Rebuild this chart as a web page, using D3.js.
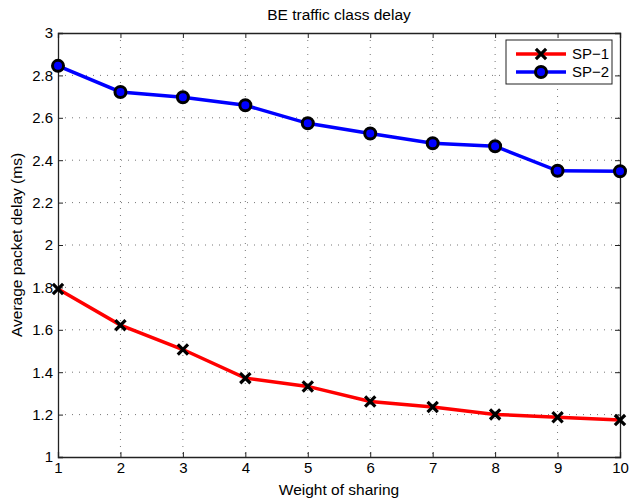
<!DOCTYPE html>
<html>
<head>
<meta charset="utf-8">
<script src="https://cdn.jsdelivr.net/npm/d3@7"></script>
<style>
  body { margin: 0; background: #fff; }
  svg text { font-family: "Liberation Sans", Arial, sans-serif; fill: #000; }
</style>
</head>
<body>
<div id="chart"></div>
<script>
// data
const weights = [1, 2, 3, 4, 5, 6, 7, 8, 9, 10];
const sp1 = [1.792, 1.622, 1.507, 1.372, 1.333, 1.262, 1.236, 1.201, 1.187, 1.174];
const sp2 = [2.845, 2.722, 2.697, 2.659, 2.574, 2.526, 2.480, 2.466, 2.350, 2.348];
const yTicks = [1, 1.2, 1.4, 1.6, 1.8, 2, 2.2, 2.4, 2.6, 2.8, 3];

const width = 630, height = 502;
const margin = { top: 33, right: 10, bottom: 45, left: 58 };
const iw = width - margin.left - margin.right;
const ih = height - margin.top - margin.bottom;
const fs = 15;

const svg = d3.select('#chart').append('svg')
  .attr('width', width)
  .attr('height', height);

const g = svg.append('g')
  .attr('transform', `translate(${margin.left},${margin.top})`);

const x = d3.scaleLinear().domain([1, 10]).range([0, iw]);
const y = d3.scaleLinear().domain([1, 3]).range([ih, 0]);

// dotted grid
g.append('g').selectAll('line')
  .data(weights.slice(1, -1))
  .enter().append('line')
  .attr('x1', d => x(d)).attr('x2', d => x(d))
  .attr('y1', 0).attr('y2', ih)
  .attr('stroke', '#777').attr('stroke-width', 1)
  .attr('stroke-dasharray', '1,6');

g.append('g').selectAll('line')
  .data(yTicks.slice(1, -1))
  .enter().append('line')
  .attr('x1', 0).attr('x2', iw)
  .attr('y1', d => y(d)).attr('y2', d => y(d))
  .attr('stroke', '#777').attr('stroke-width', 1)
  .attr('stroke-dasharray', '1,6');

// axes, ticks pointing inward
const fmt = d => d3.format('~g')(d);
g.append('g')
  .attr('transform', `translate(0,${ih})`)
  .call(d3.axisBottom(x).tickValues(weights).tickSize(-5).tickPadding(5).tickFormat(fmt))
  .call(a => a.selectAll('text').attr('font-size', fs));
g.append('g')
  .call(d3.axisTop(x).tickValues(weights).tickSize(-5).tickFormat(''));
g.append('g')
  .call(d3.axisLeft(y).tickValues(yTicks).tickSize(-5).tickPadding(5).tickFormat(fmt))
  .call(a => a.selectAll('text').attr('font-size', fs));
g.append('g')
  .attr('transform', `translate(${iw},0)`)
  .call(d3.axisRight(y).tickValues(yTicks).tickSize(-5).tickFormat(''));

g.selectAll('.domain').attr('stroke', '#222').attr('stroke-width', 1.3);
g.selectAll('.tick line').attr('stroke', '#222');

// lines
const line = d3.line().x((d, i) => x(weights[i])).y(d => y(d));

g.append('path').datum(sp1)
  .attr('fill', 'none').attr('stroke', '#ff0000').attr('stroke-width', 3.5)
  .attr('d', line);
g.append('path').datum(sp2)
  .attr('fill', 'none').attr('stroke', '#0000ff').attr('stroke-width', 3.5)
  .attr('d', line);

// markers
const cross = d3.symbol().type(d3.symbolX).size(70);
g.append('g').selectAll('path')
  .data(sp1)
  .enter().append('path')
  .attr('d', cross)
  .attr('transform', (d, i) => `translate(${x(weights[i])},${y(d)})`)
  .attr('stroke', '#000').attr('stroke-width', 3.2).attr('fill', 'none');

g.append('g').selectAll('circle')
  .data(sp2)
  .enter().append('circle')
  .attr('cx', (d, i) => x(weights[i]))
  .attr('cy', d => y(d))
  .attr('r', 5.5)
  .attr('fill', '#0000ff').attr('stroke', '#000').attr('stroke-width', 3);

// title and labels
svg.append('text')
  .attr('x', margin.left + iw / 2).attr('y', 20)
  .attr('text-anchor', 'middle').attr('font-size', 15.5)
  .text('BE traffic class delay');
svg.append('text')
  .attr('x', margin.left + iw / 2).attr('y', 495)
  .attr('text-anchor', 'middle').attr('font-size', 15.5)
  .text('Weight of sharing');
svg.append('text')
  .attr('transform', `translate(22,${margin.top + ih / 2}) rotate(-90)`)
  .attr('text-anchor', 'middle').attr('font-size', 15.5)
  .text('Average packet delay (ms)');

// legend
const legend = svg.append('g').attr('transform', 'translate(506,40)');
legend.append('rect')
  .attr('width', 106).attr('height', 44)
  .attr('fill', '#fff').attr('stroke', '#222').attr('stroke-width', 1);
const entries = [
  { name: 'SP\u22121', color: '#ff0000', marker: 'x' },
  { name: 'SP\u22122', color: '#0000ff', marker: 'o' }
];
entries.forEach((e, i) => {
  const ly = 14 + i * 18;
  legend.append('line')
    .attr('x1', 10).attr('x2', 60).attr('y1', ly).attr('y2', ly)
    .attr('stroke', e.color).attr('stroke-width', 3.5);
  if (e.marker === 'x') {
    legend.append('path').attr('d', cross)
      .attr('transform', `translate(35,${ly})`)
      .attr('stroke', '#000').attr('stroke-width', 3.2).attr('fill', 'none');
  } else {
    legend.append('circle').attr('cx', 35).attr('cy', ly).attr('r', 5.5)
      .attr('fill', '#0000ff').attr('stroke', '#000').attr('stroke-width', 3);
  }
  legend.append('text')
    .attr('x', 66).attr('y', ly + 5).attr('font-size', fs)
    .text(e.name);
});
</script>
</body>
</html>
